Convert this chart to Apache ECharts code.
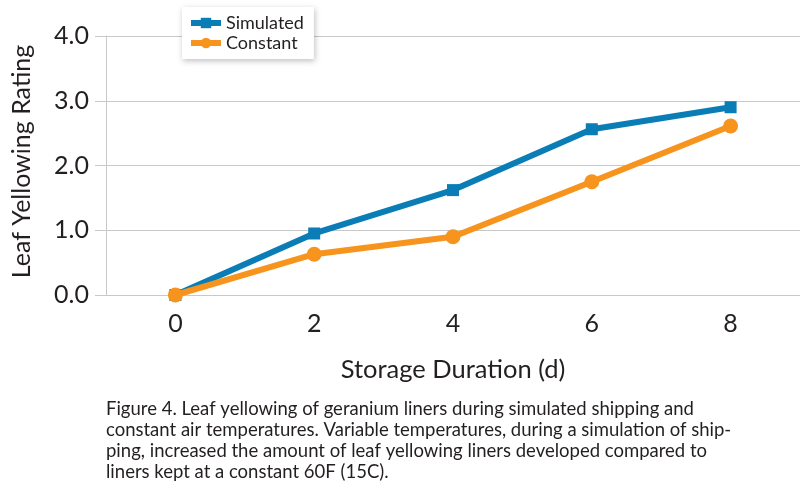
<!DOCTYPE html>
<html>
<head>
<meta charset="utf-8">
<script src="https://cdn.jsdelivr.net/npm/echarts@6/dist/echarts.min.js"></script>
<style>
 html, body { margin: 0; padding: 0; background: #fff; }
 #main { width: 800px; height: 501px; }
</style>
</head>
<body>
<div id="main"></div>
<script>
// storage duration in days
var days = ['0', '2', '4', '6', '8'];
var simulated = [0, 0.95, 1.62, 2.56, 2.9];
var constant = [0, 0.63, 0.9, 1.75, 2.61];
var yTicks = [0, 1, 2, 3, 4];

var caption = 'Figure 4. Leaf yellowing of geranium liners during simulated shipping and\n' +
 'constant air temperatures. Variable temperatures, during a simulation of ship-\n' +
 'ping, increased the amount of leaf yellowing liners developed compared to\n' +
 'liners kept at a constant 60F (15C).';

var font = 'Lato';
var ink = '#231f20';
var gridGray = '#c8c8c8';
var chart = echarts.init(document.getElementById('main'));

var option = {
 animation: false,
 title: {
  text: caption,
  left: 106,
  top: 399,
  padding: 0,
  textStyle: {
   fontFamily: font,
   fontSize: 18.5,
   fontWeight: 'normal',
   color: ink,
   lineHeight: 21
  }
 },
 legend: {
  orient: 'vertical',
  left: 182,
  top: 7,
  padding: [6, 10, 6, 6],
  itemGap: 0,
  itemWidth: 30,
  itemHeight: 13,
  backgroundColor: '#fff',
  shadowColor: 'rgba(0,0,0,0.25)',
  shadowBlur: 6,
  shadowOffsetX: 1,
  shadowOffsetY: 2,
  lineStyle: { width: 6 },
  textStyle: { fontFamily: font, fontSize: 18, color: ink, lineHeight: 20 },
  data: ['Simulated', 'Constant']
 },
 grid: { left: 106, right: 0, top: 36, bottom: 206 },
 xAxis: {
  type: 'category',
  data: days,
  boundaryGap: true,
  name: 'Storage Duration (d)',
  nameLocation: 'middle',
  nameGap: 62,
  nameTextStyle: { fontFamily: font, fontSize: 25.5, color: ink },
  axisLine: { lineStyle: { color: gridGray } },
  axisTick: { show: false },
  axisLabel: { fontFamily: font, fontSize: 25, color: ink, margin: 16 }
 },
 yAxis: {
  type: 'value',
  min: yTicks[0],
  max: yTicks[yTicks.length - 1],
  interval: 1,
  name: 'Leaf Yellowing Rating',
  nameLocation: 'middle',
  nameGap: 72,
  nameTextStyle: { fontFamily: font, fontSize: 25, color: ink, padding: [0, 0, 0, 8] },
  axisLine: { show: true, lineStyle: { color: gridGray } },
  axisTick: { show: true, length: 11, lineStyle: { color: gridGray } },
  splitLine: { lineStyle: { color: gridGray, width: 1 } },
  axisLabel: {
   fontFamily: font, fontSize: 25, color: ink, margin: 17,
   formatter: function (v) { return v.toFixed(1); }
  }
 },
 series: [
  {
   name: 'Simulated',
   type: 'line',
   data: simulated,
   symbol: 'rect',
   symbolSize: 12,
   color: '#0a7db6',
   lineStyle: { width: 6 },
   itemStyle: { color: '#0a7db6' },
   z: 2
  },
  {
   name: 'Constant',
   type: 'line',
   data: constant,
   symbol: 'circle',
   symbolSize: 15,
   color: '#f7941e',
   lineStyle: { width: 6 },
   itemStyle: { color: '#f7941e' },
   z: 3
  }
 ]
};
chart.setOption(option);
</script>
</body>
</html>
